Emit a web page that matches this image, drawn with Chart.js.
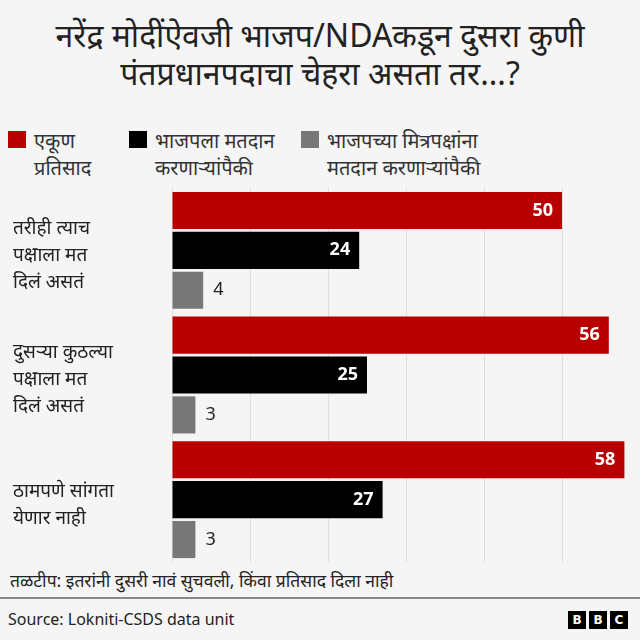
<!DOCTYPE html>
<html>
<head>
<meta charset="utf-8">
<script src="https://cdn.jsdelivr.net/npm/chart.js@4"></script>
<style>
  html, body { margin: 0; padding: 0; background: #f5f5f5; }
  body { width: 640px; height: 640px; position: relative; overflow: hidden; font-family: "Noto Sans", sans-serif; color: #222; }
  #title { position: absolute; top: 16px; left: 0; width: 640px; text-align: center; font-size: 32px; line-height: 38px; font-weight: 400; }
  .leg { position: absolute; top: 127px; font-size: 20px; line-height: 27px; color: #333; white-space: nowrap; }
  .leg i { position: absolute; left: -26px; top: 4px; width: 18px; height: 17px; }
  #chartbox { position: absolute; left: 0; top: 188px; width: 640px; height: 374px; }
  #note { position: absolute; left: 10px; top: 568px; font-size: 17.5px; color: #222; }
  #rule { position: absolute; left: 0; top: 597px; width: 640px; height: 2px; background: #888; }
  #source { position: absolute; left: 8px; top: 608px; font-size: 16px; color: #222; }
  #bbc { position: absolute; right: 12px; top: 611px; display: flex; gap: 3px; }
  #bbc span { width: 18px; height: 18px; background: #000; color: #fff; font: bold 12px "DejaVu Sans", sans-serif; text-align: center; line-height: 18px; }
</style>
</head>
<body>
<div id="title">नरेंद्र मोदींऐवजी भाजप/NDAकडून दुसरा कुणी<br>पंतप्रधानपदाचा चेहरा असता तर...?</div>
<div class="leg" style="left:34px"><i style="background:#b80000"></i>एकूण<br>प्रतिसाद</div>
<div class="leg" style="left:155px"><i style="background:#000"></i>भाजपला मतदान<br>करणाऱ्यांपैकी</div>
<div class="leg" style="left:327px"><i style="background:#777"></i>भाजपच्या मित्रपक्षांना<br>मतदान करणाऱ्यांपैकी</div>
<div id="chartbox"><canvas id="c"></canvas></div>
<div id="note">तळटीप: इतरांनी दुसरी नावं सुचवली, किंवा प्रतिसाद दिला नाही</div>
<div id="rule"></div>
<div id="source">Source: Lokniti-CSDS data unit</div>
<div id="bbc"><span>B</span><span>B</span><span>C</span></div>
<script>
const categories = [
  ['तरीही त्याच', 'पक्षाला मत', 'दिलं असतं'],
  ['दुसऱ्या कुठल्या', 'पक्षाला मत', 'दिलं असतं'],
  ['ठामपणे सांगता', 'येणार नाही']
];
const seriesNames = ['एकूण प्रतिसाद', 'भाजपला मतदान करणाऱ्यांपैकी', 'भाजपच्या मित्रपक्षांना मतदान करणाऱ्यांपैकी'];
const totalValues = [50, 56, 58];
const bjpValues = [24, 25, 27];
const allyValues = [4, 3, 3];
const seriesColors = ['#b80000', '#000000', '#777777'];

// category names on the left and the numbers at the bar ends
const labelPlugin = {
  id: 'labelPlugin',
  afterDatasetsDraw(chart) {
    const ctx = chart.ctx;
    const yScale = chart.scales.y;
    ctx.save();
    ctx.textBaseline = 'middle';
    ctx.textAlign = 'left';
    ctx.fillStyle = '#222';
    ctx.font = '19px "Noto Sans", sans-serif';
    const lh = 27;
    chart.data.labels.forEach((lines, i) => {
      const yc = yScale.getPixelForTick(i) + 5;
      lines.forEach((t, k) => {
        ctx.fillText(t, 13, yc + (k - (lines.length - 1) / 2) * lh);
      });
    });
    chart.data.datasets.forEach((ds, i) => {
      chart.getDatasetMeta(i).data.forEach((bar, j) => {
        const v = ds.data[j];
        if (v >= 10) {
          ctx.font = 'bold 18px "Noto Sans", sans-serif';
          ctx.fillStyle = '#fff';
          ctx.textAlign = 'right';
          ctx.fillText(v, bar.x - 9, bar.y);
        } else {
          ctx.font = '18px "Noto Sans", sans-serif';
          ctx.fillStyle = '#222';
          ctx.textAlign = 'left';
          ctx.fillText(v, bar.x + 10, bar.y);
        }
      });
    });
    ctx.restore();
  }
};

new Chart(document.getElementById('c'), {
  type: 'bar',
  data: {
    labels: categories,
    datasets: [
      { label: seriesNames[0], data: totalValues, backgroundColor: seriesColors[0] },
      { label: seriesNames[1], data: bjpValues, backgroundColor: seriesColors[1] },
      { label: seriesNames[2], data: allyValues, backgroundColor: seriesColors[2] }
    ]
  },
  options: {
    indexAxis: 'y',
    responsive: true,
    maintainAspectRatio: false,
    animation: false,
    categoryPercentage: 0.96,
    barPercentage: 0.93,
    layout: { padding: 0 },
    plugins: { legend: { display: false }, tooltip: { enabled: false } },
    scales: {
      x: {
        min: 0, max: 60,
        ticks: { display: false, stepSize: 10 },
        grid: { color: '#dedede', drawTicks: false },
        border: { display: false }
      },
      y: {
        afterFit: s => { s.width = 172; },
        ticks: { display: false },
        grid: { display: false },
        border: { display: false }
      }
    }
  },
  plugins: [labelPlugin]
});
</script>
</body>
</html>
